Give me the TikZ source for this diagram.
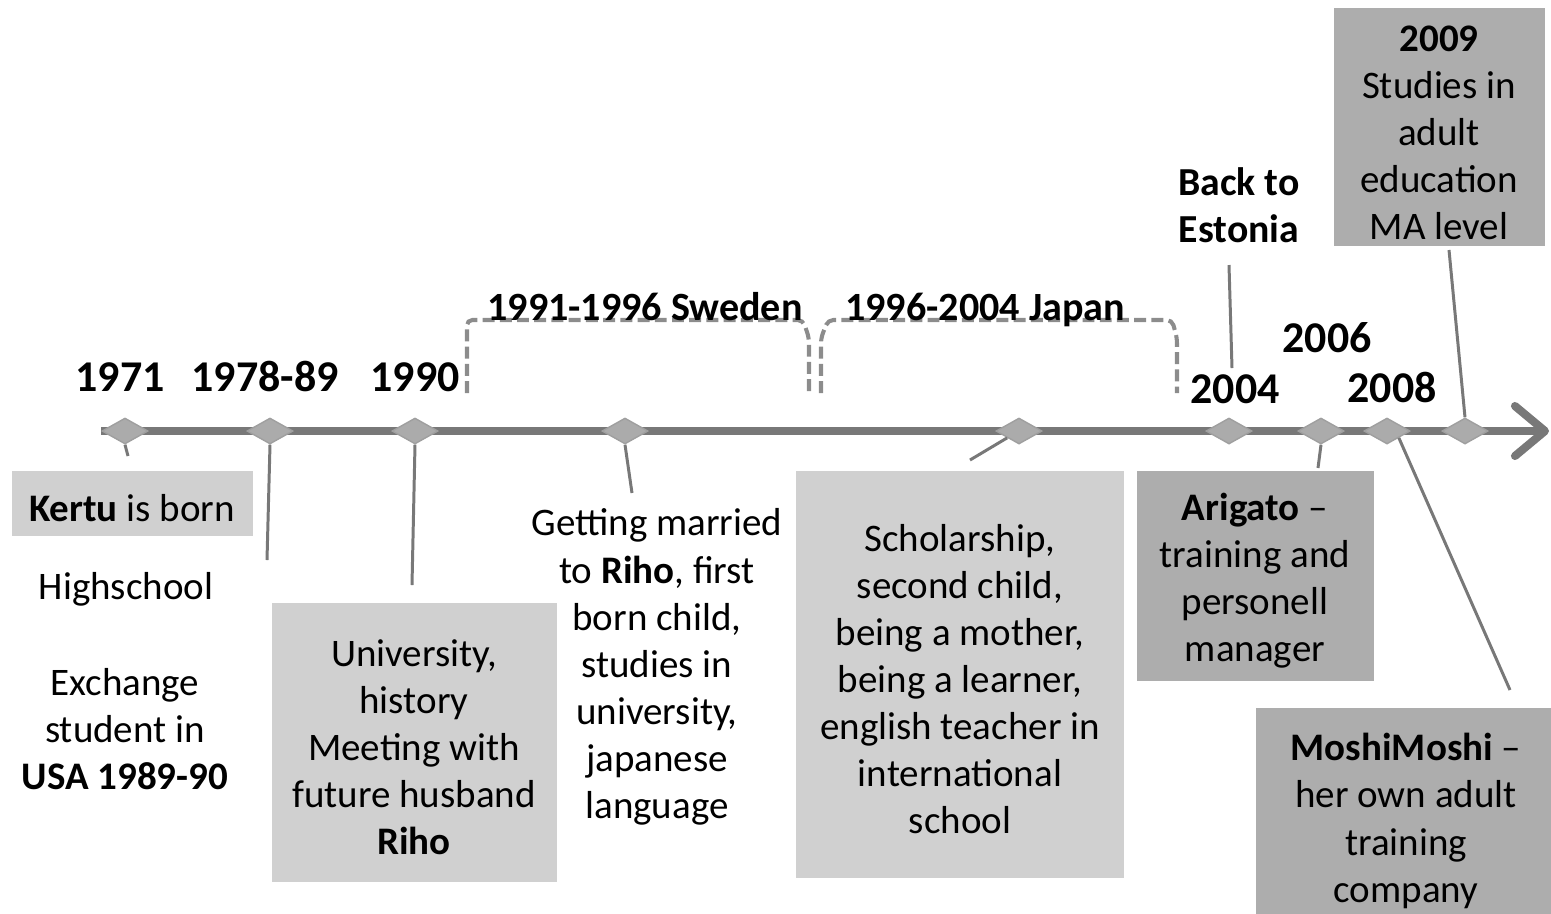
\documentclass[tikz,border=0pt]{standalone}
\usepackage{fontspec}
\setmainfont{Carlito}
\usepackage{xcolor}
\usepackage{tikz}
\usetikzlibrary{shapes.geometric, arrows.meta}

\definecolor{axisgray}{gray}{0.47}
\definecolor{markgray}{gray}{0.67}
\definecolor{lightbox}{gray}{0.815}
\definecolor{darkbox}{gray}{0.68}
\definecolor{dashgray}{gray}{0.55}

% a bit of air above the first line of a card
\newcommand{\cardtop}{\rule{0pt}{10.6pt}}

\tikzset{
  year/.style={font=\fontsize{12.5}{15}\selectfont\bfseries, anchor=base, inner sep=0pt},
  span label/.style={font=\fontsize{11.4}{14}\selectfont\bfseries, anchor=base, inner sep=0pt},
  body/.style={font=\fontsize{11.1}{13.4}\selectfont, align=center, inner sep=0pt},
  event/.style={diamond, draw=gray!75, fill=markgray, line width=0.4pt,
                minimum width=0.46cm, minimum height=0.26cm, inner sep=0pt},
  lightcard/.style={body, fill=lightbox},
  darkcard/.style={body, fill=darkbox},
  callout/.style={draw=axisgray, line width=0.85pt},
  span/.style={draw=dashgray, line width=1.15pt, dash pattern=on 3.4pt off 1.5pt,
               rounded corners=1.5pt}
}

\begin{document}
\begin{tikzpicture}[x=0.1mm, y=-0.1mm]
            \useasboundingbox (0,0) rectangle (1551,913);

            % time axis
            \coordinate (start) at (101,431);
            \coordinate (end) at (1549,431);
            \draw[axisgray, line width=2.3pt,
                  -{Straight Barb[length=0.30cm, width=0.50cm, round]}] (start) -- (end);

            % spans above the axis
            \draw[span] (467,393) -- (467,320) -- (803,320) -- (809,338) -- (809,393);
            \draw[span] (821,393) -- (821,338) -- (828,320) -- (1172,320) -- (1177,338) -- (1177,393);
            \node[span label] (sweden) at (645,320) {1991-1996 Sweden};
            \node[span label] (japan) at (985,320) {1996-2004 Japan};

            % events on the axis
            \node[event] (d1971) at (125,431) {};
            \node[event] (d7889) at (270,431) {};
            \node[event] (d1990) at (415,431) {};
            \node[event] (dwed) at (625,431) {};
            \node[event] (djap) at (1019,431) {};
            \node[event] (d2004) at (1229,431) {};
            \node[event] (d2006) at (1321,431) {};
            \node[event] (d2008) at (1387,431) {};
            \node[event] (d2009) at (1465,431) {};

            \node[year] (y1971) at (120,391) {1971};
            \node[year] (y7889) at (265,391) {1978-89};
            \node[year] (y1990) at (415,391) {1990};
            \node[year] (y2004) at (1235,403) {2004};
            \node[year] (y2006) at (1327,352) {2006};
            \node[year] (y2008) at (1392,402) {2008};

            % texts and cards
            \node[lightcard, minimum width=2.41cm, minimum height=0.65cm] (kertu) at (132,503) {\cardtop\textbf{Kertu} is born};
            \node[body] (highschool) at (126,589) {Highschool};
            \node[body] (exchange) at (125,729) {Exchange\\student in\\\textbf{USA 1989-90}};
            \node[lightcard, minimum width=2.85cm, minimum height=2.79cm] (univ) at (414,742) {\cardtop University,\\history\\Meeting with\\future husband\\\textbf{Riho}};
            \node[body] (married) at (657,667) {Getting married\\to \textbf{Riho}, first\\born child,\\studies in\\university,\\japanese\\language};
            \node[lightcard, minimum width=3.28cm, minimum height=4.07cm] (scholar) at (960,674) {\cardtop Scholarship,\\second child,\\being a mother,\\being a learner,\\english teacher in\\international\\school};
            \node[body, font=\fontsize{11.3}{13.4}\selectfont\bfseries] (estonia) at (1239,205) {Back to\\Estonia};
            \node[darkcard, minimum width=2.37cm, minimum height=2.10cm] (arigato) at (1255,576) {\cardtop\textbf{Arigato} --\\training and\\personell\\manager};
            \node[darkcard, minimum width=3.00cm, minimum height=2.17cm] (moshi) at (1406,816) {\cardtop\textbf{MoshiMoshi} --\\her own adult\\training\\company};
            \node[darkcard, minimum width=2.11cm, minimum height=2.38cm] (study) at (1439,127) {\cardtop\textbf{2009}\\Studies in\\adult\\education\\MA level};

            % callout lines
            \coordinate (c1971) at (128,456);
            \coordinate (c7889) at (267,560);
            \coordinate (c1990) at (412,585);
            \coordinate (cwed) at (632,493);
            \coordinate (cjap) at (970,460);
            \coordinate (ce1) at (1229,265);
            \coordinate (ce2) at (1232,368);
            \coordinate (c2006) at (1318,468);
            \coordinate (c2008) at (1510,690);
            \coordinate (c2009) at (1449,250);

            \draw[callout] (d1971.south) -- (c1971);
            \draw[callout] (d7889.south) -- (c7889);
            \draw[callout] (d1990.south) -- (c1990);
            \draw[callout] (dwed.south) -- (cwed);
            \draw[callout] (djap.south west) -- (cjap);
            \draw[callout] (ce1) -- (ce2); % estonia-2004
            \draw[callout] (d2006.south) -- (c2006);
            \draw[callout] (d2008.south east) -- (c2008);
            \draw[callout] (c2009) -- (d2009.north); % study-2009
        \end{tikzpicture}
\end{document}
